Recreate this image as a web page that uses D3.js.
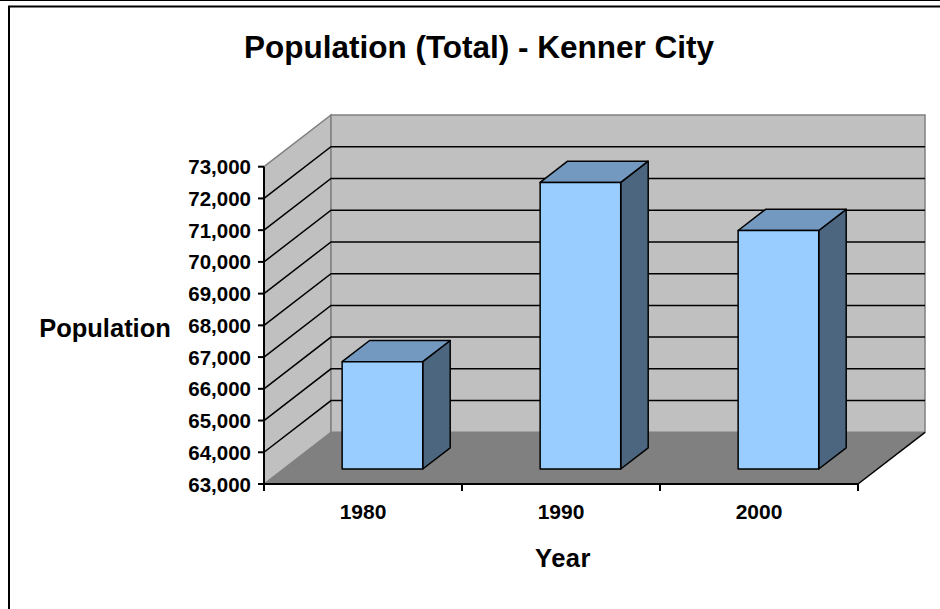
<!DOCTYPE html>
<html>
<head>
<meta charset="utf-8">
<script src="https://cdn.jsdelivr.net/npm/d3@7"></script>
<style>
  body { margin: 0; background: #fff; }
  svg { display: block; font-family: Arial, 'Liberation Sans', sans-serif; font-weight: bold; }
</style>
</head>
<body>
<script>
// data
let years = ['1980', '1990', '2000']
let population = [66382, 72033, 70517]
let yDomain = [63000, 73000]

let width = 940, height = 609

// front plane of the 3d box
let plot = { left: 264, right: 858, top: 166.7, bottom: 484 }
let depth = { dx: 67, dy: -51.7 }
let barDepth = [0.29, 0.70]

let x = d3.scaleBand()
    .domain(years)
    .range([plot.left, plot.right])
    .paddingInner(0.593)
    .paddingOuter(0.2965)

let y = d3.scaleLinear()
    .domain(yDomain)
    .range([plot.bottom, plot.top])

// project a front point back by fraction d of the depth
const proj = (px, py, d) => [px + d * depth.dx, py + d * depth.dy]
const poly = pts => 'M' + pts.map(p => p.join(',')).join('L') + 'Z'

let svg = d3.select('body')
    .append('svg')
    .attr('width', width)
    .attr('height', height)

// frame
svg.append('line')
    .attr('x1', 0).attr('x2', width)
    .attr('y1', 0.5).attr('y2', 0.5)
    .attr('stroke', '#000').attr('stroke-width', 1)
svg.append('rect')
    .attr('x', 9).attr('y', 6.5)
    .attr('width', width + 20).attr('height', height + 20)
    .attr('fill', 'none')
    .attr('stroke', '#000').attr('stroke-width', 2)

let y0 = y(yDomain[0]), y1 = y(yDomain[1])

// left wall
svg.append('path')
    .attr('d', poly([[plot.left, y1], proj(plot.left, y1, 1), proj(plot.left, y0, 1), [plot.left, y0]]))
    .attr('fill', '#c0c0c0')
    .attr('stroke', '#808080').attr('stroke-width', 1.5)

// back wall
svg.append('path')
    .attr('d', poly([proj(plot.left, y1, 1), proj(plot.right, y1, 1), proj(plot.right, y0, 1), proj(plot.left, y0, 1)]))
    .attr('fill', '#c0c0c0')
    .attr('stroke', '#808080').attr('stroke-width', 1.5)

//gridlines
let ticks = y.ticks(10)
let grid = svg.append('g')
    .attr('stroke', '#000')
    .attr('stroke-width', 1.5)
    .attr('fill', 'none')

grid.selectAll('path')
    .data(ticks.filter(t => t > yDomain[0] && t < yDomain[1]))
    .enter()
    .append('path')
    .attr('d', t => {
        let a = [plot.left, y(t)], b = proj(plot.left, y(t), 1), c = proj(plot.right, y(t), 1)
        return 'M' + a + 'L' + b + 'L' + c
    })

// floor
svg.append('path')
    .attr('d', poly([[plot.left, y0], proj(plot.left, y0, 1), proj(plot.right, y0, 1), [plot.right, y0]]))
    .attr('fill', '#808080')
svg.append('line')
    .attr('x1', plot.right).attr('y1', y0)
    .attr('x2', proj(plot.right, y0, 1)[0]).attr('y2', proj(plot.right, y0, 1)[1])
    .attr('stroke', '#000').attr('stroke-width', 1.5)

// bars
let bars = svg.selectAll('.bar')
    .data(years.map((yr, i) => ({ year: yr, value: population[i] })))
    .enter()
    .append('g')
    .attr('class', 'bar')
    .attr('stroke', '#000')
    .attr('stroke-width', 1.5)
    .attr('stroke-linejoin', 'round')

const face = (d, which) => {
    let xl = x(d.year), xr = x(d.year) + x.bandwidth()
    let yt = y(d.value), yb = y0
    let [f, b] = barDepth
    if (which === 'front') return poly([proj(xl, yt, f), proj(xr, yt, f), proj(xr, yb, f), proj(xl, yb, f)])
    if (which === 'top') return poly([proj(xl, yt, f), proj(xl, yt, b), proj(xr, yt, b), proj(xr, yt, f)])
    return poly([proj(xr, yt, f), proj(xr, yt, b), proj(xr, yb, b), proj(xr, yb, f)])
}

bars.append('path').attr('fill', '#4c6680').attr('d', d => face(d, 'side'))
bars.append('path').attr('fill', '#7399c0').attr('d', d => face(d, 'top'))
bars.append('path').attr('fill', '#99ccff').attr('d', d => face(d, 'front'))

// axes
svg.append('line')
    .attr('x1', plot.left).attr('x2', plot.left)
    .attr('y1', y1).attr('y2', y0)
    .attr('stroke', '#000').attr('stroke-width', 2)
svg.append('line')
    .attr('x1', plot.left).attr('x2', plot.right)
    .attr('y1', y0).attr('y2', y0)
    .attr('stroke', '#000').attr('stroke-width', 2)

let yAxis = svg.append('g')
yAxis.selectAll('line')
    .data(ticks)
    .enter()
    .append('line')
    .attr('x1', plot.left - 6).attr('x2', plot.left)
    .attr('y1', d => y(d)).attr('y2', d => y(d))
    .attr('stroke', '#000').attr('stroke-width', 2)
yAxis.selectAll('text')
    .data(ticks)
    .enter()
    .append('text')
    .attr('x', 251)
    .attr('y', d => y(d) + 7.5)
    .attr('text-anchor', 'end')
    .attr('font-size', 20.5)
    .text(d3.format(','))

let xTicks = d3.range(years.length + 1).map(i => plot.left + i * x.step())
svg.append('g')
    .selectAll('line')
    .data(xTicks)
    .enter()
    .append('line')
    .attr('x1', d => d).attr('x2', d => d)
    .attr('y1', y0).attr('y2', y0 + 7)
    .attr('stroke', '#000').attr('stroke-width', 2)

svg.append('g')
    .selectAll('text')
    .data(years)
    .enter()
    .append('text')
    .attr('x', d => x(d) + x.bandwidth() / 2)
    .attr('y', 519)
    .attr('text-anchor', 'middle')
    .attr('font-size', 21)
    .text(d => d)

// titles
svg.append('text')
    .attr('x', 479).attr('y', 58)
    .attr('text-anchor', 'middle')
    .attr('font-size', 31.5)
    .text('Population (Total) - Kenner City')

svg.append('text')
    .attr('x', 105).attr('y', 337)
    .attr('text-anchor', 'middle')
    .attr('font-size', 25.5)
    .text('Population')

svg.append('text')
    .attr('x', 563).attr('y', 567)
    .attr('text-anchor', 'middle')
    .attr('font-size', 25.5)
    .attr('letter-spacing', 0.5)
    .text('Year')
</script>
</body>
</html>
